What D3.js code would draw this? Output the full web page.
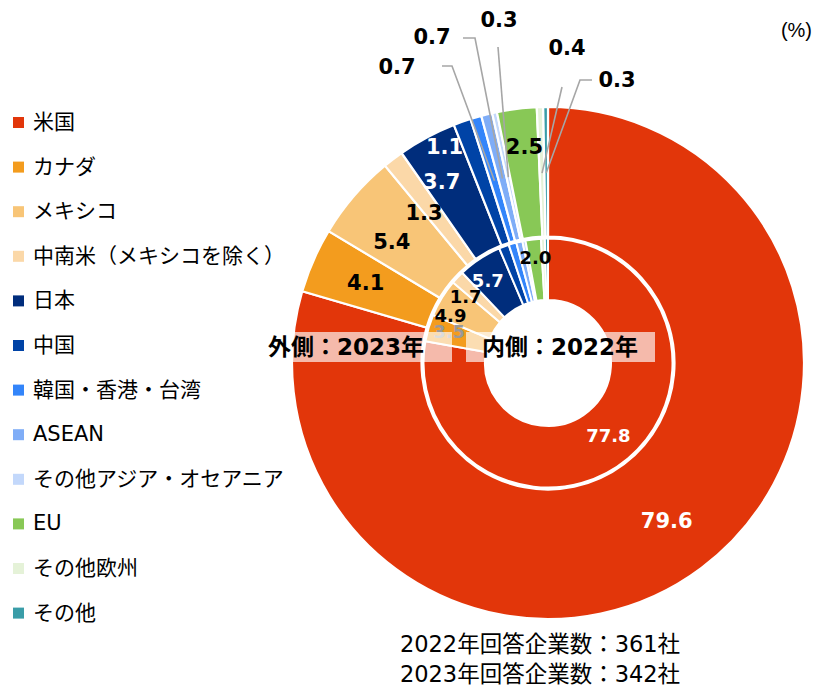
<!DOCTYPE html>
<html>
<head>
<meta charset="utf-8">
<script src="https://cdn.jsdelivr.net/npm/d3@7"></script>
<style>
  body { margin: 0; background: #fff; }
  svg { display: block; }
</style>
</head>
<body>
<svg id="chart" width="820" height="688"></svg>
<script>
// data
const categories = ['米国', 'カナダ', 'メキシコ', '中南米（メキシコを除く）', '日本', '中国',
  '韓国・香港・台湾', 'ASEAN', 'その他アジア・オセアニア', 'EU', 'その他欧州', 'その他'];
const share2023 = [79.6, 4.1, 5.4, 1.3, 3.7, 1.1, 0.7, 0.7, 0.3, 2.5, 0.4, 0.3];
const share2022 = [77.8, 3.5, 4.9, 1.7, 5.7, 1.3, 1.0, 0.8, 0.4, 2.0, 0.5, 0.4];
const colors = ['#E2360A', '#F39C1E', '#F8C577', '#FBD8A8', '#002D7C', '#0043A6',
  '#3385FA', '#7FADF7', '#C3D8FB', '#88C856', '#E5F2D8', '#3A9DA8'];
const notes = ['2022年回答企業数：361社', '2023年回答企業数：342社'];

const svg = d3.select('#chart');
const cx = 548, cy = 363;
const numFont = '"DejaVu Sans", "Noto Sans CJK JP", sans-serif';

const pie = d3.pie().sort(null).value(d => d);
const outerArc = d3.arc().innerRadius(126.5).outerRadius(256);
const innerArc = d3.arc().innerRadius(63).outerRadius(124.5);

const g = svg.append('g').attr('transform', `translate(${cx},${cy})`);

const outerData = pie(share2023);
const innerData = pie(share2022);

g.append('g').selectAll('path')
  .data(outerData)
  .join('path')
  .attr('d', outerArc)
  .attr('fill', (d, i) => colors[i])
  .attr('stroke', '#fff')
  .attr('stroke-width', 2.2);

g.append('g').selectAll('path')
  .data(innerData)
  .join('path')
  .attr('d', innerArc)
  .attr('fill', (d, i) => colors[i])
  .attr('stroke', '#fff')
  .attr('stroke-width', 2);

// helper: point at radius r on the middle of a slice
function polar(d, r) {
  const a = (d.startAngle + d.endAngle) / 2;
  return [r * Math.sin(a), -r * Math.cos(a)];
}

// ring captions
const captions = [['外側：2023年', 262, 452, 268], ['内側：2022年', 466, 655, 482]];
captions.forEach(c => {
  svg.append('rect')
    .attr('x', c[1]).attr('y', 332)
    .attr('width', c[2] - c[1]).attr('height', 30)
    .attr('fill', '#fff').attr('fill-opacity', 0.66);
  svg.append('text')
    .attr('x', c[3]).attr('y', 347)
    .attr('dominant-baseline', 'central')
    .attr('font-family', numFont)
    .attr('font-weight', 'bold')
    .attr('font-size', 23)
    .attr('fill', '#000')
    .text(c[0]);
});

// outer labels sitting in the ring: [index, radius, dx, dy, colour]
const outerIn = [[0, 198, 0, 0, '#fff'], [1, 199, 0, 0, '#000'], [2, 197, -7, 8, '#000'],
  [3, 195, -6, 5, '#000'], [4, 210, -7, 4, '#fff'], [5, 240, -23, 10, '#fff'], [9, 218, 3, 0, '#000']];
g.append('g').selectAll('text')
  .data(outerIn)
  .join('text')
  .attr('x', d => polar(outerData[d[0]], d[1])[0] + d[2])
  .attr('y', d => polar(outerData[d[0]], d[1])[1] + d[3])
  .attr('text-anchor', 'middle')
  .attr('dominant-baseline', 'central')
  .attr('font-family', numFont)
  .attr('font-weight', 'bold')
  .attr('font-size', 21)
  .attr('fill', d => d[4])
  .text(d => share2023[d[0]].toFixed(1));

// callouts for thin outer slices: [index, label x, label y, elbow points]
const callouts = [
  [6, -151, -296, [[-106, -297], [-96, -297]]],
  [7, -116, -326, [[-85, -325], [-73, -325]]],
  [8, -49, -343, [[-50, -316]]],
  [10, 19, -315, [[14, -276]]],
  [11, 69, -283, [[44, -283], [32, -283]]]
];
const lineGen = d3.line();
g.append('g').selectAll('path')
  .data(callouts)
  .join('path')
  .attr('d', d => lineGen([...d[3], polar(outerData[d[0]], 190)]))
  .attr('fill', 'none')
  .attr('stroke', '#A6A6A6')
  .attr('stroke-width', 1.6);
g.append('g').selectAll('text')
  .data(callouts)
  .join('text')
  .attr('x', d => d[1])
  .attr('y', d => d[2])
  .attr('text-anchor', 'middle')
  .attr('dominant-baseline', 'central')
  .attr('font-family', numFont)
  .attr('font-weight', 'bold')
  .attr('font-size', 21)
  .attr('fill', '#000')
  .text(d => share2023[d[0]].toFixed(1));

// inner labels: [index, radius, dx, dy, colour]
const innerIn = [[0, 94, 0, 0, '#fff'], [1, 103, 0, -2, '#999'], [2, 105, -8, 7, '#000'],
  [3, 105, -6, 6, '#000'], [4, 106, -2, 6, '#fff'], [9, 106, 0, 0, '#000']];
g.append('g').selectAll('text')
  .data(innerIn)
  .join('text')
  .attr('x', d => polar(innerData[d[0]], d[1])[0] + d[2])
  .attr('y', d => polar(innerData[d[0]], d[1])[1] + d[3])
  .attr('text-anchor', 'middle')
  .attr('dominant-baseline', 'central')
  .attr('font-family', numFont)
  .attr('font-weight', 'bold')
  .attr('font-size', 18)
  .attr('fill', d => d[4])
  .text(d => share2022[d[0]].toFixed(1));

// legend
const legend = svg.append('g').attr('transform', 'translate(13,122)');
const rows = legend.selectAll('g')
  .data(categories)
  .join('g')
  .attr('transform', (d, i) => `translate(0,${i * 44.6})`);
rows.append('rect')
  .attr('x', 0).attr('y', -5)
  .attr('width', 11).attr('height', 11)
  .attr('fill', (d, i) => colors[i]);
rows.append('text')
  .attr('x', 20).attr('y', 0)
  .attr('dominant-baseline', 'central')
  .attr('font-family', numFont)
  .attr('font-size', 21)
  .attr('fill', '#000')
  .text(d => d);

// unit
svg.append('text')
  .attr('x', 812).attr('y', 30)
  .attr('text-anchor', 'end')
  .attr('dominant-baseline', 'central')
  .attr('font-family', '"Liberation Sans", sans-serif')
  .attr('font-size', 20)
  .text('(%)');

// respondents note
svg.append('g').selectAll('text')
  .data(notes)
  .join('text')
  .attr('x', 540)
  .attr('y', (d, i) => 644 + i * 30)
  .attr('text-anchor', 'middle')
  .attr('dominant-baseline', 'central')
  .attr('font-family', numFont)
  .attr('font-size', 22.5)
  .attr('fill', '#000')
  .text(d => d);
</script>
</body>
</html>
